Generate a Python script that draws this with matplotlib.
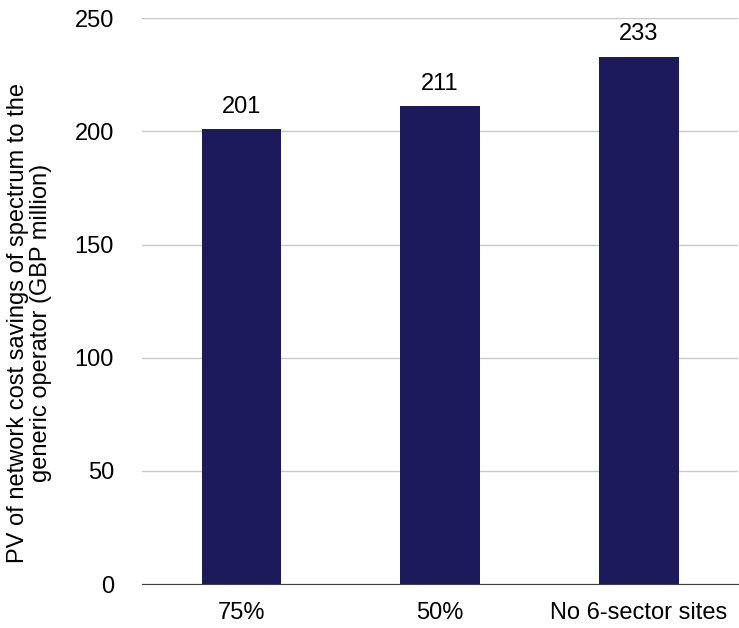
import matplotlib.pyplot as plt

categories = ["75%", "50%", "No 6-sector sites"]
values = [201, 211, 233]
yticks = [0, 50, 100, 150, 200, 250]

plt.rcParams['font.family'] = ['Liberation Sans', 'DejaVu Sans']

fig = plt.figure(figsize=(7.39, 6.28), dpi=100)
ax = fig.add_axes([0.192, 0.07, 0.807, 0.901])

x = range(len(categories))
bars = ax.bar(x, values, width=0.4, color="#1C1A5A", zorder=3)
for b, v in zip(bars, values):
    ax.text(b.get_x() + b.get_width() / 2, v + 5, str(v), ha="center", va="bottom",
            fontsize=17)

ax.set_xlim(-0.5, len(categories) - 0.5)
ax.set_ylim(0, 250)
ax.set_yticks(yticks)
ax.set_xticks(list(x))
ax.set_xticklabels(categories)
ax.grid(axis="y", color="#C8C8C8", linewidth=1, zorder=0)
for s in ["left", "right", "top"]:
    ax.spines[s].set_visible(False)
ax.spines["bottom"].set_color("#404040")
ax.tick_params(axis="both", length=0, labelsize=17)
ax.tick_params(axis="y", pad=20)
ax.tick_params(axis="x", pad=13)
ax.set_ylabel("PV of network cost savings of spectrum to the\ngeneric operator (GBP million)",
              fontsize=17, linespacing=1.05)
ax.yaxis.set_label_coords(-0.151, 0.462)

fig.savefig("out.png", dpi=100)
